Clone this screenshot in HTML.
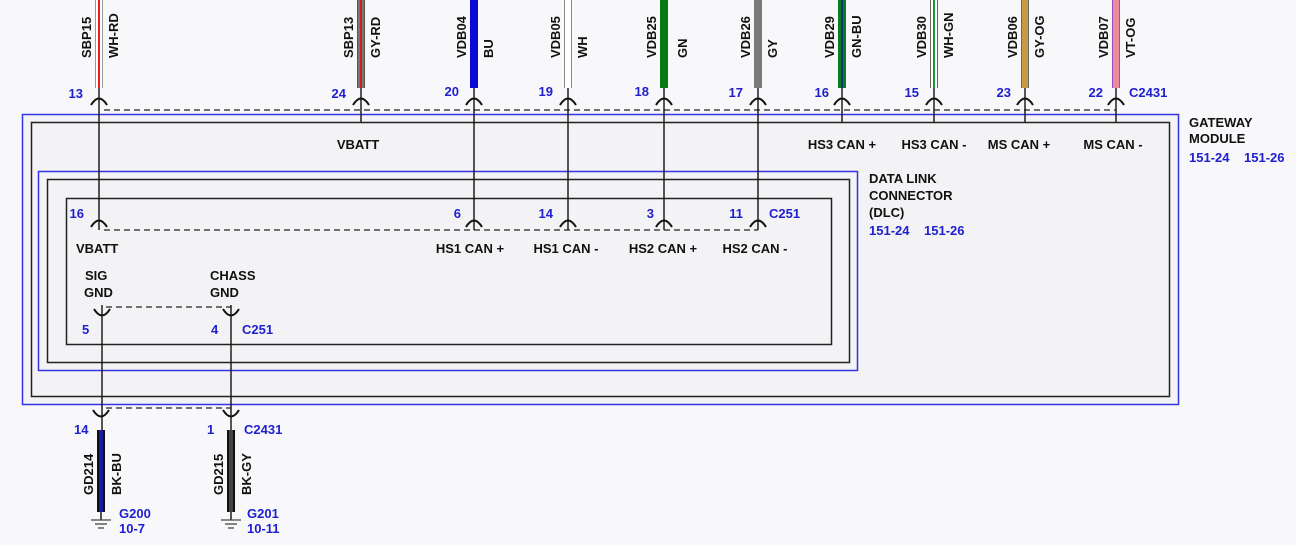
<!DOCTYPE html>
<html><head><meta charset="utf-8"><style>
html,body{margin:0;padding:0;background:#f8f8fa;}
svg{display:block;}
text{font-family:"Liberation Sans",sans-serif;font-weight:bold;font-size:13px;}
.k{fill:#111;}
.b{fill:#2020d0;}
</style></head><body>
<svg width="1296" height="545" viewBox="0 0 1296 545" xmlns="http://www.w3.org/2000/svg">
<rect width="1296" height="545" fill="#f8f8fa"/>
<rect x="22.5" y="114.5" width="1156" height="290" fill="#f3f3f5" stroke="#3434e0" stroke-width="1.5"/>
<rect x="31.5" y="122.5" width="1138" height="274" fill="#f3f3f5" stroke="#222" stroke-width="1.5"/>
<rect x="38.5" y="171.5" width="819" height="199" fill="none" stroke="#3434e0" stroke-width="1.5"/>
<rect x="47.5" y="179.5" width="802" height="183" fill="none" stroke="#222" stroke-width="1.5"/>
<rect x="66.5" y="198.5" width="765" height="146" fill="none" stroke="#222" stroke-width="1.5"/>

<g stroke="#222" stroke-width="1.2" stroke-dasharray="6,4" fill="none">
<line x1="104" y1="110" x2="1116" y2="110"/>
<line x1="104" y1="230" x2="758" y2="230"/>
<line x1="106" y1="307" x2="231" y2="307"/>
<line x1="106" y1="408" x2="231" y2="408"/>
</g>

<g stroke="#111" stroke-width="1.4">
<line x1="99" y1="88" x2="99" y2="230"/>
<line x1="361" y1="88" x2="361" y2="122"/>
<line x1="474" y1="88" x2="474" y2="230"/>
<line x1="568" y1="88" x2="568" y2="230"/>
<line x1="664" y1="88" x2="664" y2="230"/>
<line x1="758" y1="88" x2="758" y2="230"/>
<line x1="842" y1="88" x2="842" y2="122"/>
<line x1="934" y1="88" x2="934" y2="122"/>
<line x1="1025" y1="88" x2="1025" y2="122"/>
<line x1="1116" y1="88" x2="1116" y2="122"/>
<line x1="102" y1="305" x2="102" y2="430"/>
<line x1="231" y1="305" x2="231" y2="430"/>
<line x1="101" y1="512" x2="101" y2="520"/>
<line x1="231" y1="512" x2="231" y2="520"/>
</g>

<g>
<rect x="95" y="0" width="8" height="88" fill="#999"/><rect x="96" y="0" width="6" height="88" fill="#fff"/><rect x="98" y="0" width="2" height="88" fill="#e02020"/>
<rect x="357" y="0" width="8" height="88" fill="#555"/><rect x="358" y="0" width="6" height="88" fill="#777"/><rect x="360" y="0" width="2" height="88" fill="#d02020"/>
<rect x="470" y="0" width="8" height="88" fill="#0a0ad8"/>
<rect x="564" y="0" width="8" height="88" fill="#888"/><rect x="565" y="0" width="6" height="88" fill="#fff"/>
<rect x="660" y="0" width="8" height="88" fill="#0a7a14"/>
<rect x="754" y="0" width="8" height="88" fill="#7a7a7a"/>
<rect x="838" y="0" width="8" height="88" fill="#0d7a2a"/><rect x="841" y="0" width="2" height="88" fill="#123a6a"/>
<rect x="930" y="0" width="8" height="88" fill="#666"/><rect x="931" y="0" width="6" height="88" fill="#fff"/><rect x="933" y="0" width="2" height="88" fill="#1a9a2a"/>
<rect x="1021" y="0" width="8" height="88" fill="#666"/><rect x="1022" y="0" width="6" height="88" fill="#c89a48"/>
<rect x="1112" y="0" width="8" height="88" fill="#a050b0"/><rect x="1113" y="0" width="6" height="88" fill="#ec8aa0"/>
</g>
<rect x="97" y="430" width="8" height="82" fill="#111"/><rect x="99" y="430" width="4" height="82" fill="#1a1aa0"/>
<rect x="227" y="430" width="8" height="82" fill="#111"/><rect x="229" y="430" width="4" height="82" fill="#444"/>

<g fill="none" stroke="#111" stroke-width="2">
<path d="M91,105 Q99,92 107,105"/><path d="M353,105 Q361,92 369,105"/><path d="M466,105 Q474,92 482,105"/><path d="M560,105 Q568,92 576,105"/><path d="M656,105 Q664,92 672,105"/><path d="M750,105 Q758,92 766,105"/><path d="M834,105 Q842,92 850,105"/><path d="M926,105 Q934,92 942,105"/><path d="M1017,105 Q1025,92 1033,105"/><path d="M1108,105 Q1116,92 1124,105"/>
<path d="M91,227 Q99,214 107,227"/><path d="M466,227 Q474,214 482,227"/><path d="M560,227 Q568,214 576,227"/><path d="M656,227 Q664,214 672,227"/><path d="M750,227 Q758,214 766,227"/>
<path d="M94,309 Q102,322 110,309"/><path d="M223,309 Q231,322 239,309"/>
<path d="M93,410 Q101,423 109,410"/><path d="M223,410 Q231,423 239,410"/>
</g>

<g stroke="#444" stroke-width="1.3">
<line x1="91" y1="520" x2="111" y2="520"/><line x1="95" y1="524" x2="107" y2="524"/><line x1="98" y1="528" x2="104" y2="528"/>
<line x1="221" y1="520" x2="241" y2="520"/><line x1="225" y1="524" x2="237" y2="524"/><line x1="228" y1="528" x2="234" y2="528"/>
</g>

<g class="k">
<text transform="translate(91,58) rotate(-90)">SBP15</text><text transform="translate(118,58) rotate(-90)">WH-RD</text>
<text transform="translate(353,58) rotate(-90)">SBP13</text><text transform="translate(380,58) rotate(-90)">GY-RD</text>
<text transform="translate(466,58) rotate(-90)">VDB04</text><text transform="translate(493,58) rotate(-90)">BU</text>
<text transform="translate(560,58) rotate(-90)">VDB05</text><text transform="translate(587,58) rotate(-90)">WH</text>
<text transform="translate(656,58) rotate(-90)">VDB25</text><text transform="translate(687,58) rotate(-90)">GN</text>
<text transform="translate(750,58) rotate(-90)">VDB26</text><text transform="translate(777,58) rotate(-90)">GY</text>
<text transform="translate(834,58) rotate(-90)">VDB29</text><text transform="translate(861,58) rotate(-90)">GN-BU</text>
<text transform="translate(926,58) rotate(-90)">VDB30</text><text transform="translate(953,58) rotate(-90)">WH-GN</text>
<text transform="translate(1017,58) rotate(-90)">VDB06</text><text transform="translate(1044,58) rotate(-90)">GY-OG</text>
<text transform="translate(1108,58) rotate(-90)">VDB07</text><text transform="translate(1135,58) rotate(-90)">VT-OG</text>
<text transform="translate(93,495) rotate(-90)">GD214</text><text transform="translate(121,495) rotate(-90)">BK-BU</text>
<text transform="translate(223,495) rotate(-90)">GD215</text><text transform="translate(251,495) rotate(-90)">BK-GY</text>
</g>

<g class="b">
<text x="83" y="98" text-anchor="end">13</text>
<text x="346" y="98" text-anchor="end">24</text>
<text x="459" y="96" text-anchor="end">20</text>
<text x="553" y="96" text-anchor="end">19</text>
<text x="649" y="96" text-anchor="end">18</text>
<text x="743" y="97" text-anchor="end">17</text>
<text x="829" y="97" text-anchor="end">16</text>
<text x="919" y="97" text-anchor="end">15</text>
<text x="1011" y="97" text-anchor="end">23</text>
<text x="1103" y="97" text-anchor="end">22</text>
<text x="1129" y="97">C2431</text>
<text x="1189" y="162">151-24</text><text x="1244" y="162">151-26</text>
<text x="869" y="235">151-24</text><text x="924" y="235">151-26</text>
<text x="84" y="218" text-anchor="end">16</text>
<text x="461" y="218" text-anchor="end">6</text>
<text x="553" y="218" text-anchor="end">14</text>
<text x="654" y="218" text-anchor="end">3</text>
<text x="743" y="218" text-anchor="end">11</text>
<text x="769" y="218">C251</text>
<text x="82" y="334">5</text><text x="211" y="334">4</text><text x="242" y="334">C251</text>
<text x="74" y="434">14</text><text x="207" y="434">1</text><text x="244" y="434">C2431</text>
<text x="119" y="518">G200</text><text x="119" y="533">10-7</text>
<text x="247" y="518">G201</text><text x="247" y="533">10-11</text>
</g>

<g class="k">
<text x="358" y="149" text-anchor="middle">VBATT</text>
<text x="842" y="149" text-anchor="middle">HS3 CAN +</text>
<text x="934" y="149" text-anchor="middle">HS3 CAN -</text>
<text x="1019" y="149" text-anchor="middle">MS CAN +</text>
<text x="1113" y="149" text-anchor="middle">MS CAN -</text>
<text x="1189" y="127">GATEWAY</text><text x="1189" y="143">MODULE</text>
<text x="869" y="183">DATA LINK</text><text x="869" y="200">CONNECTOR</text><text x="869" y="217">(DLC)</text>
<text x="76" y="253">VBATT</text>
<text x="470" y="253" text-anchor="middle">HS1 CAN +</text>
<text x="566" y="253" text-anchor="middle">HS1 CAN -</text>
<text x="663" y="253" text-anchor="middle">HS2 CAN +</text>
<text x="755" y="253" text-anchor="middle">HS2 CAN -</text>
<text x="85" y="280">SIG</text><text x="84" y="297">GND</text>
<text x="210" y="280">CHASS</text><text x="210" y="297">GND</text>
</g>
</svg>
</body></html>
